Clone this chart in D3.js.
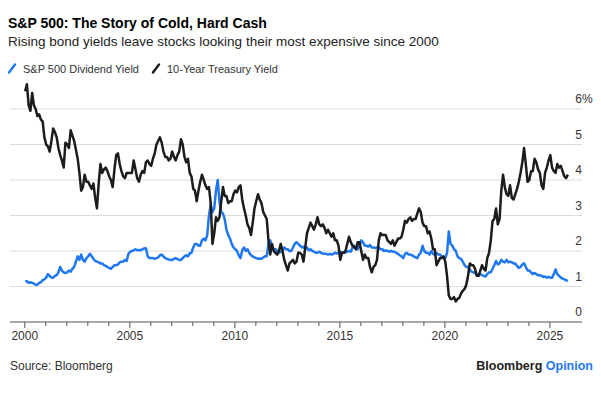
<!DOCTYPE html>
<html>
<head>
<meta charset="utf-8">
<script src="https://cdn.jsdelivr.net/npm/d3@7"></script>
<style>
  body { margin: 0; background: #fff; }
  svg { display: block; font-family: "Liberation Sans", Arial, sans-serif; }
</style>
</head>
<body>
<svg id="chart" width="601" height="399"></svg>
<script>
// monthly values, first point = Jan 2000
var startYear = 2000;

// 10-year Treasury yield (%)
var treasuryYield = [
  6.5, 6.7, 6.1, 5.95, 6.45, 6.1, 6.0, 5.8, 5.85, 5.7, 5.65, 5.2,
  5.0, 4.95, 4.8, 5.1, 5.45, 5.35, 5.2, 4.9, 4.7, 4.55, 4.35, 5.05,
  5.0, 4.9, 5.4, 5.25, 5.1, 4.85, 4.6, 4.2, 3.7, 3.8, 4.15, 3.95,
  3.95, 3.85, 3.75, 3.9, 3.5, 3.2, 3.9, 4.45, 4.2, 4.3, 4.35, 4.25,
  4.1, 4.0, 3.8, 4.3, 4.7, 4.75, 4.45, 4.25, 4.1, 4.05, 4.2, 4.2,
  4.2, 4.2, 4.55, 4.3, 4.05, 3.95, 4.15, 4.25, 4.2, 4.5, 4.55, 4.45,
  4.4, 4.6, 4.75, 5.0, 5.1, 5.2, 5.05, 4.8, 4.65, 4.65, 4.55, 4.6,
  4.8, 4.65, 4.55, 4.7, 4.8, 5.15, 5.0, 4.65, 4.5, 4.6, 4.2, 4.1,
  3.75, 3.7, 3.4, 3.7, 3.95, 4.15, 4.0, 3.85, 3.75, 3.8, 3.35, 2.2,
  2.5, 2.95, 2.85, 2.95, 3.4, 3.8, 3.55, 3.55, 3.35, 3.4, 3.4, 3.6,
  3.7, 3.65, 3.8, 3.85, 3.45, 3.2, 3.0, 2.75, 2.65, 2.45, 2.8, 3.2,
  3.4, 3.6, 3.45, 3.35, 3.1, 3.0, 2.9, 2.3, 1.9, 2.2, 2.0, 1.95,
  1.9, 2.0, 2.2, 2.0, 1.75, 1.6, 1.45, 1.65, 1.7, 1.75, 1.65, 1.7,
  1.95, 1.95, 1.9, 1.7, 2.1, 2.5, 2.65, 2.8, 2.7, 2.6, 2.75, 2.95,
  2.75, 2.7, 2.75, 2.65, 2.5, 2.6, 2.5, 2.4, 2.5, 2.3, 2.3, 2.15,
  1.75, 1.95, 1.95, 2.0, 2.2, 2.4, 2.25, 2.15, 2.1, 2.05, 2.25, 2.25,
  2.0, 1.75, 1.9, 1.8, 1.8, 1.55, 1.4, 1.55, 1.6, 1.75, 2.3, 2.5,
  2.45, 2.45, 2.45, 2.3, 2.25, 2.2, 2.3, 2.15, 2.25, 2.35, 2.35, 2.4,
  2.6, 2.85, 2.8, 2.9, 2.95, 2.85, 2.9, 2.9, 3.05, 3.2, 3.1, 2.8,
  2.7, 2.7, 2.5, 2.55, 2.35, 2.05, 2.05, 1.6, 1.7, 1.8, 1.8, 1.85,
  1.7, 1.3, 0.75, 0.65, 0.65, 0.7, 0.58, 0.65, 0.68, 0.8, 0.88, 0.93,
  1.05, 1.3, 1.65, 1.6, 1.6, 1.5, 1.3, 1.3, 1.45, 1.6, 1.5, 1.45,
  1.8, 1.95, 2.3, 2.85, 2.9, 3.2, 2.75, 2.9, 3.7, 4.15, 3.8, 3.6,
  3.55, 3.85, 3.5, 3.45, 3.6, 3.75, 3.95, 4.2, 4.5, 4.9, 4.45, 3.95,
  4.0, 4.25, 4.25, 4.6, 4.5, 4.3, 4.2, 3.85, 3.75, 4.2, 4.35, 4.55,
  4.7, 4.35, 4.25, 4.2, 4.45, 4.35, 4.4, 4.25, 4.1, 4.05, 4.15
];

// S&P 500 dividend yield (%)
var dividendYield = [
  1.15, 1.15, 1.1, 1.12, 1.1, 1.08, 1.05, 1.05, 1.1, 1.12, 1.18, 1.2,
  1.25, 1.35, 1.3, 1.25, 1.25, 1.3, 1.32, 1.4, 1.55, 1.45, 1.4, 1.38,
  1.4, 1.45, 1.42, 1.5, 1.55, 1.7, 1.85, 1.75, 1.9, 1.75, 1.7, 1.8,
  1.85, 1.92, 1.85, 1.78, 1.72, 1.7, 1.68, 1.65, 1.65, 1.6, 1.58, 1.55,
  1.52, 1.5, 1.55, 1.6, 1.6, 1.62, 1.68, 1.7, 1.7, 1.75, 1.72, 1.92,
  1.98, 2.0, 2.02, 2.05, 2.02, 2.03, 2.02, 2.05, 2.07, 2.08, 1.85, 1.8,
  1.8, 1.8, 1.78, 1.8, 1.82, 1.88, 1.9, 1.85, 1.8, 1.78, 1.76, 1.75,
  1.75, 1.78, 1.8, 1.77, 1.75, 1.75, 1.8, 1.85, 1.88, 1.85, 1.93, 1.95,
  2.1, 2.2, 2.2, 2.15, 2.15, 2.3, 2.35, 2.3, 2.45, 3.0, 3.3, 3.1,
  3.2, 3.7, 4.0, 3.4, 3.1, 3.05, 2.9, 2.6, 2.45, 2.35, 2.2, 2.1,
  2.05, 2.0, 1.88, 1.8, 2.02, 2.1, 2.0, 2.05, 1.95, 1.88, 1.85, 1.82,
  1.8, 1.78, 1.79, 1.78, 1.82, 1.85, 1.85, 2.2, 2.3, 2.1, 2.05, 2.05,
  2.0, 1.95, 1.98, 2.0, 2.1, 2.05, 2.05, 2.0, 2.0, 2.1, 2.2, 2.25,
  2.2, 2.15, 2.1, 2.12, 2.05, 2.1, 2.02, 2.05, 2.0, 1.98, 1.95, 1.95,
  1.98, 1.95, 1.93, 1.92, 1.92, 1.9, 1.92, 1.9, 1.92, 1.95, 1.93, 1.95,
  1.98, 1.95, 1.96, 1.96, 1.98, 2.0, 1.98, 2.1, 2.15, 2.05, 2.05, 2.15,
  2.3, 2.25, 2.15, 2.15, 2.12, 2.17, 2.1, 2.1, 2.08, 2.1, 2.1, 2.05,
  2.05, 2.0, 2.02, 2.0, 1.98, 2.0, 1.98, 1.98, 1.95, 1.92, 1.88, 1.85,
  1.8, 1.92, 1.95, 1.9, 1.9, 1.88, 1.85, 1.82, 1.8, 1.9, 1.95, 2.15,
  2.0, 1.95, 1.95, 1.9, 2.0, 1.92, 1.9, 1.95, 1.9, 1.9, 1.85, 1.82,
  1.8, 1.95, 2.55, 2.2, 2.15, 2.05, 2.0, 1.85, 1.8, 1.78, 1.7, 1.6,
  1.55, 1.55, 1.48, 1.42, 1.4, 1.38, 1.33, 1.32, 1.35, 1.32, 1.3, 1.28,
  1.35, 1.4, 1.4, 1.5, 1.6, 1.72, 1.62, 1.65, 1.75, 1.7, 1.68, 1.75,
  1.68, 1.7, 1.68, 1.65, 1.65, 1.58, 1.52, 1.55, 1.62, 1.65, 1.55, 1.45,
  1.45, 1.4, 1.35, 1.38, 1.35, 1.32, 1.32, 1.3, 1.27, 1.28, 1.25, 1.27,
  1.25, 1.25, 1.35, 1.48, 1.35, 1.3, 1.25, 1.22, 1.2, 1.18, 1.15
];

var yTicks = [0, 1, 2, 3, 4, 5, 6];
var xLabelYears = [2000, 2005, 2010, 2015, 2020, 2025];

var BLUE = "#1f78f0";
var BLACK = "#1c1c1c";

var svg = d3.select("#chart");

// titles
svg.append("text").attr("x", 8).attr("y", 28)
    .attr("font-size", 14).attr("font-weight", "bold").attr("fill", "#000")
    .text("S&P 500: The Story of Cold, Hard Cash");
svg.append("text").attr("x", 8).attr("y", 46)
    .attr("font-size", 13.5).attr("fill", "#222")
    .text("Rising bond yields leave stocks looking their most expensive since 2000");

// legend
var legend = [
    { name: "S&P 500 Dividend Yield", color: BLUE, x: 8 },
    { name: "10-Year Treasury Yield", color: BLACK, x: 152 }
];
legend.forEach(function (l) {
    svg.append("line")
        .attr("x1", l.x + 1).attr("y1", 72.5).attr("x2", l.x + 7).attr("y2", 64.5)
        .attr("stroke", l.color).attr("stroke-width", 2.4).attr("stroke-linecap", "round");
    svg.append("text").attr("x", l.x + 15).attr("y", 72.5)
        .attr("font-size", 11).attr("fill", "#333").text(l.name);
});

var x = d3.scaleLinear().domain([1999.32, 2026.55]).range([10, 582]);
var y = d3.scaleLinear().domain([0, 6]).range([322, 109]);

// gridlines
svg.append("g").selectAll("line")
    .data(yTicks.filter(function (d) { return d > 0; }))
    .join("line")
    .attr("x1", 10).attr("x2", 582)
    .attr("y1", function (d) { return y(d); }).attr("y2", function (d) { return y(d); })
    .attr("stroke", "#dcdcdc").attr("stroke-width", 1.2);

// y labels (sit above the gridline, right aligned)
svg.append("g").selectAll("text")
    .data(yTicks)
    .join("text")
    .attr("x", 582).attr("y", function (d) { return y(d) - 6; })
    .attr("text-anchor", "end")
    .attr("font-size", 12).attr("fill", "#333")
    .text(function (d) { return d; });
svg.append("text").attr("x", 582).attr("y", y(6) - 6)
    .attr("font-size", 12).attr("fill", "#333").text("%");

// x axis
var xAxis = d3.axisBottom(x)
    .tickValues(d3.range(2000, 2026))
    .tickSize(4)
    .tickFormat(function (d) { return xLabelYears.indexOf(d) >= 0 ? d : ""; });
var gx = svg.append("g").attr("transform", "translate(0,322)").call(xAxis);
gx.select(".domain").remove();
gx.append("line").attr("x1", 10).attr("x2", 582).attr("stroke", "#555").attr("stroke-width", 1.2);
gx.selectAll(".tick line").attr("stroke", "#555")
    .attr("y2", function (d) { return xLabelYears.indexOf(d) >= 0 ? 6 : 4; });
gx.selectAll(".tick text").attr("font-size", 12).attr("fill", "#333")
    .attr("font-family", "Liberation Sans, Arial, sans-serif").attr("dy", "0.9em");

// lines
function monthPos(i) { return startYear + (i + 0.5) / 12; }
var line = d3.line()
    .x(function (d, i) { return x(monthPos(i)); })
    .y(function (d) { return y(d); });

svg.append("path").datum(dividendYield)
    .attr("d", line).attr("fill", "none")
    .attr("stroke", BLUE).attr("stroke-width", 2.5).attr("stroke-linejoin", "round");
svg.append("path").datum(treasuryYield)
    .attr("d", line).attr("fill", "none")
    .attr("stroke", BLACK).attr("stroke-width", 2.5).attr("stroke-linejoin", "round");

// footer
svg.append("text").attr("x", 10).attr("y", 370)
    .attr("font-size", 12).attr("fill", "#333").text("Source: Bloomberg");
var brand = svg.append("text").attr("x", 593).attr("y", 370)
    .attr("text-anchor", "end").attr("font-size", 12.5).attr("font-weight", "bold");
brand.append("tspan").attr("fill", "#222").text("Bloomberg ");
brand.append("tspan").attr("fill", BLUE).text("Opinion");
</script>
</body>
</html>
